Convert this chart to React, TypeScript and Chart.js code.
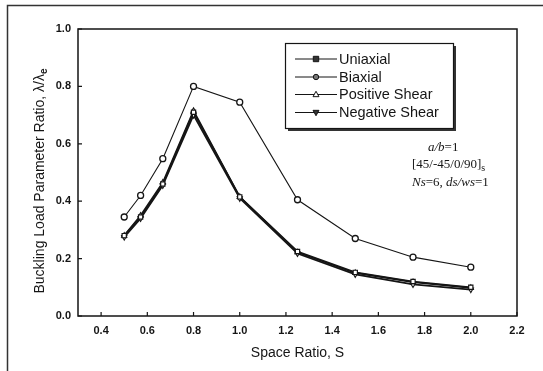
import React, { useEffect, useRef } from "react";
import { Chart, registerables } from "chart.js";

Chart.register(...registerables);

const spaceRatio = [0.5, 0.571, 0.667, 0.8, 1.0, 1.25, 1.5, 1.75, 2.0];
const uniaxial = [0.28, 0.345, 0.46, 0.71, 0.415, 0.225, 0.152, 0.12, 0.1];
const biaxial = [0.345, 0.42, 0.548, 0.8, 0.745, 0.405, 0.27, 0.205, 0.17];
const positiveShear = [0.28, 0.35, 0.465, 0.715, 0.415, 0.222, 0.15, 0.118, 0.098];
const negativeShear = [0.275, 0.34, 0.455, 0.7, 0.41, 0.218, 0.145, 0.11, 0.092];

const seriesNames = ["Uniaxial", "Biaxial", "Positive Shear", "Negative Shear"];
const xTickValues = [0.4, 0.6, 0.8, 1.0, 1.2, 1.4, 1.6, 1.8, 2.0, 2.2];
const yTickValues = [0.0, 0.2, 0.4, 0.6, 0.8, 1.0];
const xTitle = "Space Ratio, S";
const yTitle = "Buckling Load Parameter Ratio, \u03bb/\u03bb";
const yTitleSub = "e";

const INK = "#151515";
const SANS = "'Liberation Sans', Arial, sans-serif";
const SERIF = "'Liberation Serif', 'Times New Roman', serif";

type Run = { t: string; f: string; dy?: number };

function drawRuns(ctx: CanvasRenderingContext2D, x: number, y: number, runs: Run[]) {
  let cx = x;
  for (const r of runs) {
    ctx.font = r.f;
    ctx.fillText(r.t, cx, y + (r.dy || 0));
    cx += ctx.measureText(r.t).width;
  }
}

function drawMarker(ctx: CanvasRenderingContext2D, style: string, x: number, y: number, r: number, fill: string) {
  ctx.beginPath();
  if (style === "rect") {
    ctx.rect(x - r, y - r, 2 * r, 2 * r);
  } else if (style === "circle") {
    ctx.arc(x, y, r, 0, Math.PI * 2);
  } else if (style === "triangle") {
    ctx.moveTo(x, y - r * 1.2);
    ctx.lineTo(x + r * 1.1, y + r * 0.8);
    ctx.lineTo(x - r * 1.1, y + r * 0.8);
    ctx.closePath();
  } else {
    ctx.moveTo(x, y + r * 1.2);
    ctx.lineTo(x + r * 1.1, y - r * 0.8);
    ctx.lineTo(x - r * 1.1, y - r * 0.8);
    ctx.closePath();
  }
  ctx.fillStyle = fill;
  ctx.fill();
  ctx.stroke();
}

const decorPlugin = {
  id: "decor",
  afterDraw(chart: any) {
    const ctx: CanvasRenderingContext2D = chart.ctx;
    const { left, right, top, bottom } = chart.chartArea;
    const xs = chart.scales.x;
    const ys = chart.scales.y;
    ctx.save();
    ctx.strokeStyle = INK;
    ctx.fillStyle = INK;

    // outer frame (top and left)
    ctx.lineWidth = 1.5;
    ctx.strokeStyle = "#333";
    ctx.beginPath();
    ctx.moveTo(7.5, 371);
    ctx.lineTo(7.5, 5.5);
    ctx.lineTo(543, 5.5);
    ctx.stroke();

    // plot box
    ctx.strokeStyle = INK;
    ctx.lineWidth = 1.5;
    ctx.strokeRect(left, top, right - left, bottom - top);

    // inward ticks
    ctx.lineWidth = 1.2;
    ctx.beginPath();
    for (const v of xTickValues) {
      const px = xs.getPixelForValue(v);
      ctx.moveTo(px, bottom);
      ctx.lineTo(px, bottom - 4);
    }
    for (const v of yTickValues) {
      const py = ys.getPixelForValue(v);
      ctx.moveTo(left, py);
      ctx.lineTo(left + 4, py);
    }
    ctx.stroke();

    // axis titles
    ctx.textBaseline = "middle";
    ctx.textAlign = "center";
    ctx.font = `14px ${SANS}`;
    ctx.fillText(xTitle, (left + right) / 2, 353);

    ctx.save();
    ctx.translate(40, 181);
    ctx.rotate(-Math.PI / 2);
    ctx.textAlign = "left";
    ctx.font = `14px ${SANS}`;
    const w1 = ctx.measureText(yTitle).width;
    ctx.font = `bold 10px ${SANS}`;
    const w2 = ctx.measureText(yTitleSub).width;
    const sx = -(w1 + w2) / 2;
    ctx.font = `14px ${SANS}`;
    ctx.fillText(yTitle, sx, 0);
    ctx.font = `bold 10px ${SANS}`;
    ctx.fillText(yTitleSub, sx + w1, 4);
    ctx.restore();

    // legend
    const lx = 285, ly = 43, lw = 168, lh = 85;
    ctx.fillStyle = "#fff";
    ctx.fillRect(lx, ly, lw, lh);
    ctx.fillStyle = "#333";
    ctx.fillRect(lx + lw, ly + 3, 3, lh);
    ctx.fillRect(lx + 3, ly + lh, lw, 3);
    ctx.strokeStyle = INK;
    ctx.lineWidth = 1.2;
    ctx.strokeRect(lx + 0.5, ly + 0.5, lw, lh);
    const rowsY = [59, 77, 94.5, 112.5];
    const styles = ["rect", "circle", "triangle", "invtriangle"];
    const fills = ["#333", "#777", "#fff", "#333"];
    ctx.textAlign = "left";
    ctx.textBaseline = "middle";
    for (let i = 0; i < 4; i++) {
      const yy = rowsY[i];
      ctx.strokeStyle = INK;
      ctx.lineWidth = 1;
      ctx.beginPath();
      ctx.moveTo(295, yy);
      ctx.lineTo(337, yy);
      ctx.stroke();
      drawMarker(ctx, styles[i], 316, yy, 2.7, fills[i]);
      ctx.fillStyle = INK;
      ctx.font = `14.5px ${SANS}`;
      ctx.fillText(seriesNames[i], 339, yy + 0.5);
    }

    // annotation
    ctx.fillStyle = INK;
    ctx.textBaseline = "alphabetic";
    const it = `italic 13px ${SERIF}`;
    const rg = `13px ${SERIF}`;
    const sub = `10px ${SERIF}`;
    drawRuns(ctx, 428, 151, [
      { t: "a/b", f: it },
      { t: "=1", f: rg },
    ]);
    drawRuns(ctx, 412, 168, [
      { t: "[45/-45/0/90]", f: rg },
      { t: "s", f: sub, dy: 3 },
    ]);
    drawRuns(ctx, 412, 186, [
      { t: "Ns", f: it },
      { t: "=6, ", f: rg },
      { t: "ds/ws", f: it },
      { t: "=1", f: rg },
    ]);

    ctx.restore();
  },
};

export default function App() {
  const ref = useRef<HTMLCanvasElement | null>(null);

  useEffect(() => {
    if (!ref.current) return;
    const mk = (vals: number[]) => spaceRatio.map((x, i) => ({ x, y: vals[i] }));
    const chart = new Chart(ref.current, {
      type: "line",
      data: {
        datasets: [
          {
            label: seriesNames[0],
            data: mk(uniaxial),
            borderColor: INK,
            borderWidth: 1.7,
            pointStyle: "rect",
            pointRadius: 3,
            pointBackgroundColor: "#fff",
            pointBorderColor: INK,
            pointBorderWidth: 1.2,
          },
          {
            label: seriesNames[1],
            data: mk(biaxial),
            borderColor: INK,
            borderWidth: 1.1,
            pointStyle: "circle",
            pointRadius: 3,
            pointBackgroundColor: "#fff",
            pointBorderColor: INK,
            pointBorderWidth: 1.3,
          },
          {
            label: seriesNames[2],
            data: mk(positiveShear),
            borderColor: INK,
            borderWidth: 1.7,
            pointStyle: "triangle",
            pointRadius: 3,
            pointBackgroundColor: "#fff",
            pointBorderColor: INK,
            pointBorderWidth: 1.1,
          },
          {
            label: seriesNames[3],
            data: mk(negativeShear),
            borderColor: INK,
            borderWidth: 1.7,
            pointStyle: "triangle",
            rotation: 180,
            pointRadius: 3,
            pointBackgroundColor: "#fff",
            pointBorderColor: INK,
            pointBorderWidth: 1.1,
          },
        ] as any,
      },
      options: {
        responsive: false,
        animation: false,
        layout: { padding: { top: 29, right: 26, left: 0, bottom: 0 } },
        plugins: { legend: { display: false }, tooltip: { enabled: false } },
        scales: {
          x: {
            type: "linear",
            min: 0.3,
            max: 2.2,
            afterBuildTicks: (s: any) => {
              s.ticks = xTickValues.map((v) => ({ value: v }));
            },
            afterFit: (s: any) => {
              s.height = 55;
              s.paddingLeft = 0;
              s.paddingRight = 0;
            },
            grid: { display: false, drawTicks: false },
            border: { display: false },
            ticks: {
              color: INK,
              padding: 8,
              font: { family: SANS, size: 11, weight: "bold" },
              callback: (v: any) => Number(v).toFixed(1),
            },
          },
          y: {
            type: "linear",
            min: 0,
            max: 1,
            afterBuildTicks: (s: any) => {
              s.ticks = yTickValues.map((v) => ({ value: v }));
            },
            afterFit: (s: any) => {
              s.width = 78;
            },
            grid: { display: false, drawTicks: false },
            border: { display: false },
            ticks: {
              color: INK,
              padding: 7,
              font: { family: SANS, size: 11, weight: "bold" },
              callback: (v: any) => Number(v).toFixed(1),
            },
          },
        },
      } as any,
      plugins: [decorPlugin],
    });
    return () => chart.destroy();
  }, []);

  return (
    <div style={{ position: "absolute", left: 0, top: 0, width: 543, height: 371, background: "#fff" }}>
      <canvas ref={ref} width={543} height={371} style={{ display: "block", width: 543, height: 371 }} />
    </div>
  );
}
